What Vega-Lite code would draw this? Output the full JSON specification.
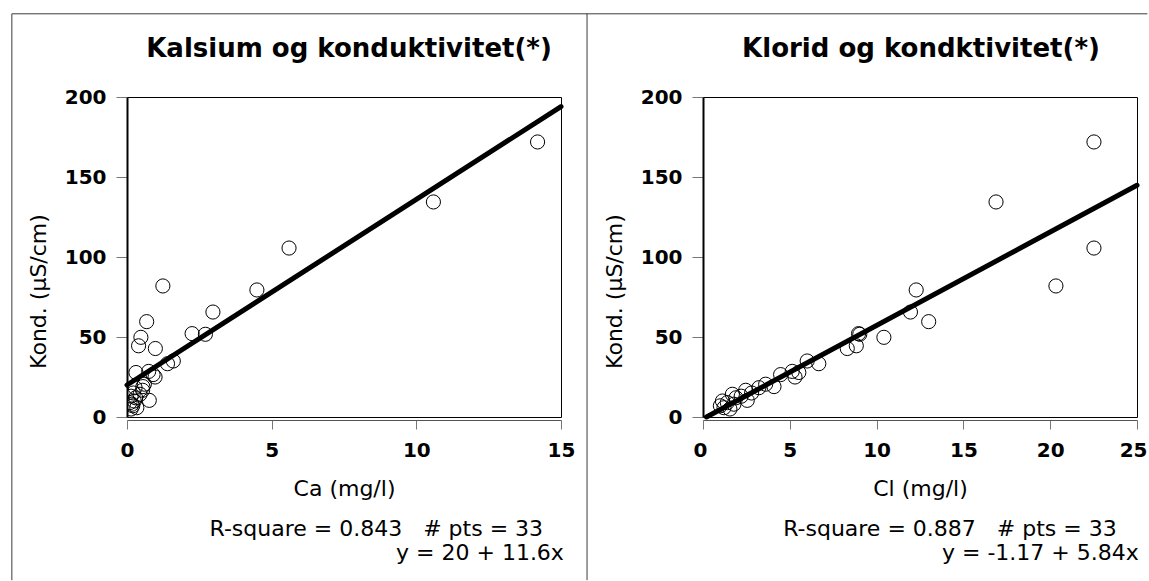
{
  "$schema": "https://vega.github.io/schema/vega-lite/v6.json",
  "padding": {"left": 10, "top": 12, "right": 0, "bottom": 0},
  "background": "white",
  "spacing": 142,
  "bounds": "flush",
  "datasets": {
    "pts": [
      {"Ca": 14.19, "Cl": 22.52, "Kond": 171.9},
      {"Ca": 10.59, "Cl": 16.88, "Kond": 134.4},
      {"Ca": 5.60, "Cl": 22.52, "Kond": 105.6},
      {"Ca": 1.24, "Cl": 20.33, "Kond": 81.9},
      {"Ca": 4.49, "Cl": 12.28, "Kond": 79.4},
      {"Ca": 2.97, "Cl": 11.95, "Kond": 65.6},
      {"Ca": 0.68, "Cl": 13.0, "Kond": 59.6},
      {"Ca": 2.25, "Cl": 8.96, "Kond": 52.1},
      {"Ca": 2.71, "Cl": 9.03, "Kond": 51.7},
      {"Ca": 0.48, "Cl": 10.42, "Kond": 49.8},
      {"Ca": 0.40, "Cl": 8.83, "Kond": 44.5},
      {"Ca": 0.98, "Cl": 8.31, "Kond": 42.8},
      {"Ca": 1.60, "Cl": 6.0, "Kond": 35.0},
      {"Ca": 1.40, "Cl": 6.67, "Kond": 33.3},
      {"Ca": 0.75, "Cl": 5.14, "Kond": 28.5},
      {"Ca": 0.31, "Cl": 5.52, "Kond": 27.8},
      {"Ca": 0.90, "Cl": 4.47, "Kond": 26.5},
      {"Ca": 0.97, "Cl": 5.3, "Kond": 25.0},
      {"Ca": 0.60, "Cl": 3.61, "Kond": 20.5},
      {"Ca": 0.55, "Cl": 4.09, "Kond": 19.0},
      {"Ca": 0.28, "Cl": 3.22, "Kond": 18.3},
      {"Ca": 0.54, "Cl": 2.46, "Kond": 16.7},
      {"Ca": 0.22, "Cl": 2.8, "Kond": 15.0},
      {"Ca": 0.45, "Cl": 1.69, "Kond": 14.2},
      {"Ca": 0.14, "Cl": 2.2, "Kond": 13.0},
      {"Ca": 0.30, "Cl": 1.9, "Kond": 12.0},
      {"Ca": 0.77, "Cl": 2.55, "Kond": 10.4},
      {"Ca": 0.25, "Cl": 1.12, "Kond": 10.0},
      {"Ca": 0.10, "Cl": 1.4, "Kond": 9.0},
      {"Ca": 0.17, "Cl": 1.78, "Kond": 8.0},
      {"Ca": 0.20, "Cl": 1.0, "Kond": 7.0},
      {"Ca": 0.14, "Cl": 1.55, "Kond": 5.0},
      {"Ca": 0.34, "Cl": 1.21, "Kond": 5.8}
    ],
    "fitCa": [{"Ca": 0, "Kond": 20}, {"Ca": 15, "Kond": 194}],
    "fitCl": [{"Cl": 0.2, "Kond": 0}, {"Cl": 25, "Kond": 144.83}]
  },
  "config": {
    "font": "DejaVu Sans",
    "view": {"stroke": "black", "strokeWidth": 1},
    "axis": {
      "grid": false,
      "labelFont": "DejaVu Sans",
      "labelFontSize": 20,
      "labelFontWeight": "bold",
      "labelColor": "black",
      "titleFont": "DejaVu Sans",
      "titleFontSize": 22,
      "titleFontWeight": "normal",
      "titleColor": "black",
      "tickColor": "#777777",
      "labelOverlap": false
    },
    "axisX": {
      "offset": 3,
      "tickSize": 9,
      "domainColor": "#555555",
      "domainWidth": 1,
      "labelPadding": 11,
      "titlePadding": 18,
      "labelFlush": false
    },
    "axisY": {
      "tickSize": 11,
      "domainColor": "black",
      "domainWidth": 2,
      "labelPadding": 10,
      "titlePadding": 14,
      "titleY": 194
    },
    "title": {
      "font": "DejaVu Sans",
      "fontSize": 26,
      "fontWeight": "bold",
      "color": "black",
      "anchor": "middle",
      "frame": "group",
      "baseline": "alphabetic",
      "offset": -48.7
    }
  },
  "hconcat": [
    {
      "width": 434,
      "height": 320,
      "title": {"text": "Kalsium og konduktivitet(*)", "dx": 5},
      "layer": [
        {
          "data": {"name": "pts"},
          "mark": {"type": "point", "shape": "circle", "filled": false, "stroke": "black", "strokeWidth": 1, "size": 200, "opacity": 1, "clip": true},
          "encoding": {
            "x": {"field": "Ca", "type": "quantitative", "scale": {"domain": [0, 15], "nice": false, "zero": false}, "axis": {"title": "Ca (mg/l)", "values": [0, 5, 10, 15]}},
            "y": {"field": "Kond", "type": "quantitative", "scale": {"domain": [0, 200], "nice": false}, "axis": {"title": "Kond. (µS/cm)", "values": [0, 50, 100, 150, 200]}}
          }
        },
        {
          "data": {"name": "fitCa"},
          "mark": {"type": "line", "color": "black", "strokeWidth": 5, "strokeCap": "round"},
          "encoding": {
            "x": {"field": "Ca", "type": "quantitative"},
            "y": {"field": "Kond", "type": "quantitative"}
          }
        },
        {
          "data": {"values": [{}]},
          "mark": {"type": "rule", "color": "#3c3c3c", "strokeWidth": 1},
          "encoding": {"x": {"datum": -3.98}, "y": {"datum": 252}, "y2": {"datum": -102}}
        },
        {
          "data": {"values": [{}]},
          "mark": {"type": "rule", "color": "#3c3c3c", "strokeWidth": 1},
          "encoding": {"x": {"datum": 15.9}, "y": {"datum": 252}, "y2": {"datum": -102}}
        },
        {
          "data": {"values": [{}]},
          "mark": {"type": "rule", "color": "#3c3c3c", "strokeWidth": 1},
          "encoding": {"x": {"datum": -3.98}, "x2": {"datum": 15.9}, "y": {"datum": 252}}
        },
        {
          "data": {"values": [{"label": "R-square = 0.843 \u00a0 # pts = 33"}]},
          "mark": {"type": "text", "align": "right", "baseline": "alphabetic", "fontSize": 22, "color": "black"},
          "encoding": {"text": {"field": "label"}, "x": {"datum": 14.38}, "y": {"datum": -74.4}}
        },
        {
          "data": {"values": [{"label": "y = 20 + 11.6x"}]},
          "mark": {"type": "text", "align": "right", "baseline": "alphabetic", "fontSize": 22, "color": "black"},
          "encoding": {"text": {"field": "label"}, "x": {"datum": 15.1}, "y": {"datum": -89.4}}
        }
      ]
    },
    {
      "width": 434,
      "height": 320,
      "title": {"text": "Klorid og kondktivitet(*)", "dx": 1},
      "layer": [
        {
          "data": {"name": "pts"},
          "mark": {"type": "point", "shape": "circle", "filled": false, "stroke": "black", "strokeWidth": 1, "size": 200, "opacity": 1, "clip": true},
          "encoding": {
            "x": {"field": "Cl", "type": "quantitative", "scale": {"domain": [0, 25], "nice": false, "zero": false}, "axis": {"title": "Cl (mg/l)", "values": [0, 5, 10, 15, 20, 25], "labelFlush": true, "labelFlushOffset": 10}},
            "y": {"field": "Kond", "type": "quantitative", "scale": {"domain": [0, 200], "nice": false}, "axis": {"title": "Kond. (µS/cm)", "values": [0, 50, 100, 150, 200]}}
          }
        },
        {
          "data": {"name": "fitCl"},
          "mark": {"type": "line", "color": "black", "strokeWidth": 5, "strokeCap": "round"},
          "encoding": {
            "x": {"field": "Cl", "type": "quantitative"},
            "y": {"field": "Kond", "type": "quantitative"}
          }
        },
        {
          "data": {"values": [{}]},
          "mark": {"type": "rule", "color": "#3c3c3c", "strokeWidth": 1},
          "encoding": {"x": {"datum": -6.7}, "x2": {"datum": 25.6}, "y": {"datum": 252}}
        },
        {
          "data": {"values": [{"label": "R-square = 0.887 \u00a0 # pts = 33"}]},
          "mark": {"type": "text", "align": "right", "baseline": "alphabetic", "fontSize": 22, "color": "black"},
          "encoding": {"text": {"field": "label"}, "x": {"datum": 23.83}, "y": {"datum": -74.4}}
        },
        {
          "data": {"values": [{"label": "y = -1.17 + 5.84x"}]},
          "mark": {"type": "text", "align": "right", "baseline": "alphabetic", "fontSize": 22, "color": "black"},
          "encoding": {"text": {"field": "label"}, "x": {"datum": 25.1}, "y": {"datum": -89.4}}
        }
      ]
    }
  ]
}
